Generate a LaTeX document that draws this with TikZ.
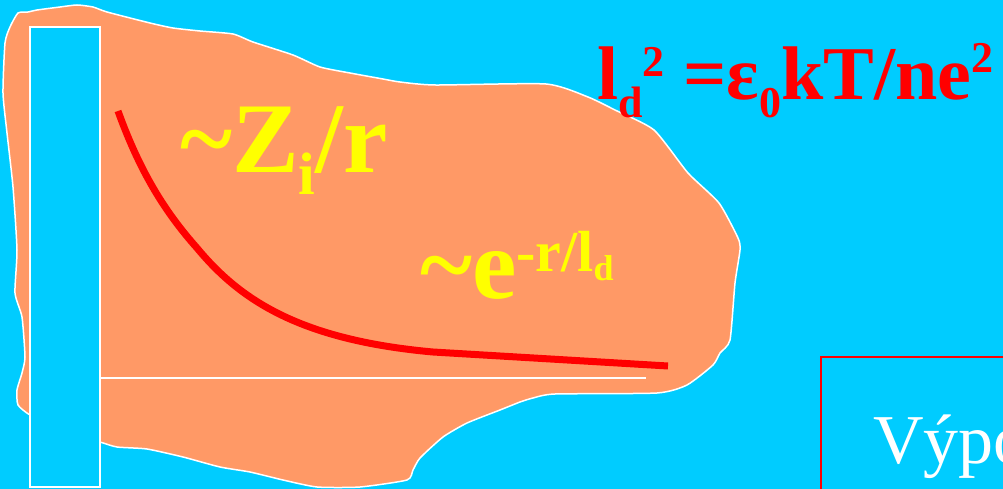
\documentclass[tikz,border=0pt]{standalone}
\usepackage{fontspec}
\setmainfont{Liberation Serif}
\definecolor{bgcyan}{HTML}{00CCFF}
\definecolor{blob}{HTML}{FF9966}
\definecolor{curvered}{HTML}{FF0000}
\definecolor{txtyellow}{HTML}{FFFF00}
\newcommand{\fs}[1]{\fontsize{#1}{#1}\selectfont}
\tikzset{
  lbl/.style={anchor=base west, inner sep=0pt, outer sep=0pt},
  outline/.style={draw=white, line width=1.5pt},
}
\begin{document}
\begin{tikzpicture}[x=1pt,y=-1pt]
\useasboundingbox (0,0) rectangle (1003,489);
\clip (0,0) rectangle (1003,489);
\fill[bgcyan] (0,0) rectangle (1003,489);
% blob
\filldraw[fill=blob, outline] plot[smooth cycle, tension=0.35] coordinates {
 (3,93) (5,43) (10,27) (18,13) (28,12) (37,10) (60,7) (77,5) (93,7) (107,12)
 (150,23) (173,28) (200,31) (233,34) (253,42) (293,55) (320,67) (350,73)
 (383,79) (400,82) (435,85) (546,84) (588,97) (615,110) (654,130) (688,173)
 (719,203) (738,238) (740,250) (735,283) (730,340) (720,353) (713,365)
 (687,385) (657,393) (555,394) (533,398) (520,402) (500,410) (467,423)
 (443,437) (420,458) (413,470) (407,480) (360,487) (317,487) (283,480)
 (250,472) (220,467) (183,457) (147,449) (117,447) (100,442) (60,430)
 (30,415) (18,405) (17,390) (22,373) (25,357) (22,317) (15,293) (17,250)
 (13,187) (7,133)};
% axis line
\coordinate (ax0) at (100,378);
\coordinate (ax1) at (646,378);
\draw[white, line width=1.5pt] (ax0) -- (ax1);
% wall
\filldraw[fill=bgcyan, outline] (30,27) rectangle (100,487);
% potential curve
\coordinate (c0) at (118,111);
\coordinate (c1) at (197,248);
\coordinate (c2) at (433,352);
\coordinate (c3) at (668,366);
\draw[curvered, line width=7pt] (c0) .. controls (140,172) and (165,212) .. (c1)
  .. controls (240,300) and (300,340) .. (c2) -- (c3);
% labels
\node[lbl, text=txtyellow] (zr) at (180,172)
 {\fs{100}\bfseries \textasciitilde Z\raisebox{-22pt}{\fs{60}i}/r};
\node[lbl, text=txtyellow] (ex) at (420,298)
 {\fs{100}\bfseries \textasciitilde e\raisebox{27pt}{\fs{58}-r/l\raisebox{-9pt}{\fs{36}d}}};
\node[lbl, text=curvered] (ld) at (597,100)
 {\fs{76}\bfseries l\raisebox{-18pt}{\fs{44}d}\raisebox{23pt}{\fs{44}2} =ε\raisebox{-18pt}{\fs{44}0}kT/ne\raisebox{27pt}{\fs{44}2}};
% bottom-right box
\draw[curvered, line width=2pt] (821,357) rectangle (1020,520);
\node[lbl, text=white] (vy) at (873,463) {\fs{70}Výpo};
\end{tikzpicture}
\end{document}
